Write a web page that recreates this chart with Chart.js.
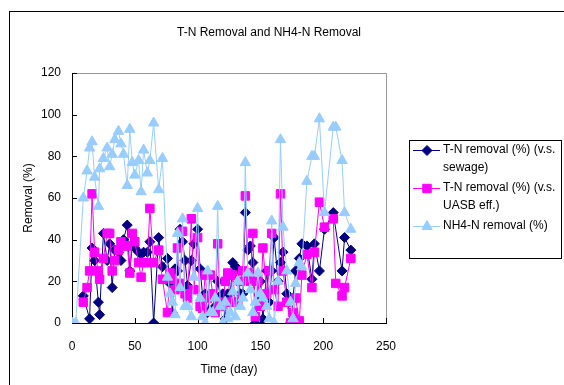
<!DOCTYPE html>
<html>
<head>
<meta charset="utf-8">
<script src="https://cdn.jsdelivr.net/npm/chart.js@4/dist/chart.umd.min.js"></script>
<style>
  html, body { margin: 0; padding: 0; background: #fff; overflow: hidden; }
  #wrap { position: relative; width: 564px; height: 385px; }
  #frame { position: absolute; left: 9px; top: 11px; width: 600px; height: 400px; border: 1px solid #000; }
  canvas { position: absolute; left: 0; top: 0; }
</style>
</head>
<body>
<div id="wrap">
  <div id="frame"></div>
  <canvas id="removalChart" width="564" height="385"></canvas>
</div>
<script>
// ===== data =====
const days = [0,3,9,12,14,16,18,21,22,25,28,30,32,34,37,39,41,44,46,48,
  50,53,55,57,60,62,65,69,72,76,78,80,82,84,86,88,90,92,95,97,
  100,102,104,106,108,110,112,114,116,118,120,122,124,126,128,130,132,134,136,138,
  140,142,144,146,148,150,152,155,157,159,161,164,166,168,171,174,176,178,181,183,
  187,191,193,197,201,205,208,210,213,215,217,222];

const tnSewage = [null,null,13,null,2,36,30,10,4,43,30,38,17,35,34,30,40,47,25,37,
  36,34,33,34,34,39,0,41,27,31,19,5,26,25,45,39,30,18,30,38,
  45,26,13,14,5,13,13,8,20,13,14,2,14,14,29,27,26,14,14,53,
  35,37,29,0,10,20,2,25,10,25,41,20,29,34,14,0,12,25,31,38,
  37,21,38,25,45,null,53,null,null,25,41,35];

const tnUasb = [null,null,10,17,25,62,34,25,21,31,43,43,25,30,35,39,37,37,24,43,
  39,29,22,29,29,55,29,35,21,5,24,21,16,36,19,44,14,12,50,16,
  41,8,7,23,12,23,14,5,38,10,8,20,24,10,23,10,10,20,25,61,
  24,20,43,3,20,8,36,14,25,43,16,8,62,25,10,0,5,12,1,23,
  33,17,34,58,46,null,50,19,null,13,17,31];

const nh4Removal = [0,0,60,73,84,87,70,56,74,79,84,75,81,88,92,86,81,66,93,77,
  71,78,63,83,72,78,96,64,79,22,14,10,4,43,17,50,8,8,3,22,
  55,12,3,0,25,5,5,12,56,8,0,10,2,5,15,3,20,8,12,77,
  24,16,5,10,24,14,12,8,2,49,0,20,88,46,25,10,2,19,29,27,
  68,80,80,98,53,null,94,94,null,78,53,45];

const xTicks = [0, 50, 100, 150, 200, 250];
const yTicks = [0, 20, 40, 60, 80, 100, 120];

const legendLines = [
  ["T-N removal (%) (v.s.", "sewage)"],
  ["T-N removal (%) (v.s.", "UASB eff.)"],
  ["NH4-N removal (%)"]
];

const FONT = "Liberation Sans, Arial, sans-serif";

function toPoints(values) {
  return days.map((d, i) => ({ x: d, y: values[i] }));
}

// ===== frame: title, plot border, inner ticks, boxed legend =====
const excelFrame = {
  id: "excelFrame",
  beforeDatasetsDraw(chart) {
    const { ctx, chartArea: a, scales } = chart;
    ctx.save();
    ctx.strokeStyle = "#999";
    ctx.lineWidth = 1;
    ctx.beginPath();
    ctx.moveTo(a.left, a.top + 0.5);
    ctx.lineTo(a.right + 0.5, a.top + 0.5);
    ctx.lineTo(a.right + 0.5, a.bottom);
    ctx.stroke();
    ctx.strokeStyle = "#000";
    ctx.beginPath();
    ctx.moveTo(a.left + 0.5, a.top);
    ctx.lineTo(a.left + 0.5, a.bottom + 0.5);
    ctx.lineTo(a.right + 1, a.bottom + 0.5);
    yTicks.forEach(v => {
      const py = Math.round(scales.y.getPixelForValue(v)) + 0.5;
      ctx.moveTo(a.left, py);
      ctx.lineTo(a.left + 5, py);
    });
    xTicks.forEach(v => {
      const px = Math.round(scales.x.getPixelForValue(v)) + 0.5;
      ctx.moveTo(px, a.bottom);
      ctx.lineTo(px, a.bottom - 5);
    });
    ctx.stroke();
    ctx.restore();
  },
  afterDraw(chart) {
    const { ctx } = chart;
    ctx.save();
    ctx.fillStyle = "#000";
    ctx.font = "12px " + FONT;
    ctx.textAlign = "center";
    ctx.textBaseline = "middle";
    ctx.fillText("T-N Removal and NH4-N Removal", 269, 33);

    // legend box
    ctx.strokeStyle = "#000";
    ctx.lineWidth = 1;
    ctx.strokeRect(409.5, 140.5, 152, 118);
    ctx.textAlign = "left";
    let y = 150;
    chart.data.datasets.forEach((ds, i) => {
      ctx.strokeStyle = ds.borderColor;
      ctx.lineWidth = 1;
      ctx.beginPath();
      ctx.moveTo(413, y + 0.5);
      ctx.lineTo(440, y + 0.5);
      ctx.stroke();
      ctx.fillStyle = ds.pointBackgroundColor;
      ctx.strokeStyle = ds.pointBorderColor;
      Chart.helpers.drawPoint(ctx, {
        pointStyle: ds.pointStyle, radius: ds.pointRadius, borderWidth: 1
      }, 427, y + 0.5);
      ctx.fillStyle = "#000";
      legendLines[i].forEach((t, j) => ctx.fillText(t, 443, y + j * 18));
      y += legendLines[i].length * 18 + 2;
    });
    ctx.restore();
  }
};

const ctx = document.getElementById("removalChart");
new Chart(ctx.getContext("2d"), {
  type: "scatter",
  data: {
    datasets: [{
      label: legendLines[0].join(" "),
      data: toPoints(tnSewage),
      showLine: true,
      spanGaps: true,
      borderColor: "#000080",
      borderWidth: 1,
      pointStyle: "rectRot",
      pointRadius: 5,
      pointBackgroundColor: "#000080",
      pointBorderColor: "#000080",
      order: 3
    }, {
      label: legendLines[1].join(" "),
      data: toPoints(tnUasb),
      showLine: true,
      spanGaps: true,
      borderColor: "#FF00FF",
      borderWidth: 1,
      pointStyle: "rect",
      pointRadius: 6,
      pointBackgroundColor: "#FF00FF",
      pointBorderColor: "#FF00FF",
      order: 2
    }, {
      label: legendLines[2][0],
      data: toPoints(nh4Removal),
      showLine: true,
      spanGaps: true,
      borderColor: "#99CCFF",
      borderWidth: 1,
      pointStyle: "triangle",
      pointRadius: 6,
      pointBackgroundColor: "#99CCFF",
      pointBorderColor: "#99CCFF",
      order: 1
    }]
  },
  options: {
    responsive: false,
    animation: false,
    layout: { padding: { top: 73, right: 178, left: 0, bottom: 0 } },
    plugins: {
      legend: { display: false },
      tooltip: { enabled: false }
    },
    scales: {
      x: {
        type: "linear",
        min: 0, max: 250,
        afterFit: s => { s.height = 62; },
        afterBuildTicks: s => { s.ticks = xTicks.map(v => ({ value: v })); },
        ticks: { color: "#000", font: { family: FONT, size: 12 }, padding: 8 },
        grid: { display: false },
        border: { display: false },
        title: { display: true, text: "Time (day)", color: "#000",
                 font: { family: FONT, size: 12 }, padding: { top: 0, bottom: 8 } }
      },
      y: {
        min: 0, max: 120,
        afterFit: s => { s.width = 72; },
        afterBuildTicks: s => { s.ticks = yTicks.map(v => ({ value: v })); },
        ticks: { color: "#000", font: { family: FONT, size: 12 }, padding: 3 },
        grid: { display: false },
        border: { display: false },
        title: { display: true, text: "Removal (%)", color: "#000",
                 font: { family: FONT, size: 12 }, padding: { top: 21, bottom: 0 } }
      }
    }
  },
  plugins: [excelFrame]
});
</script>
</body>
</html>
